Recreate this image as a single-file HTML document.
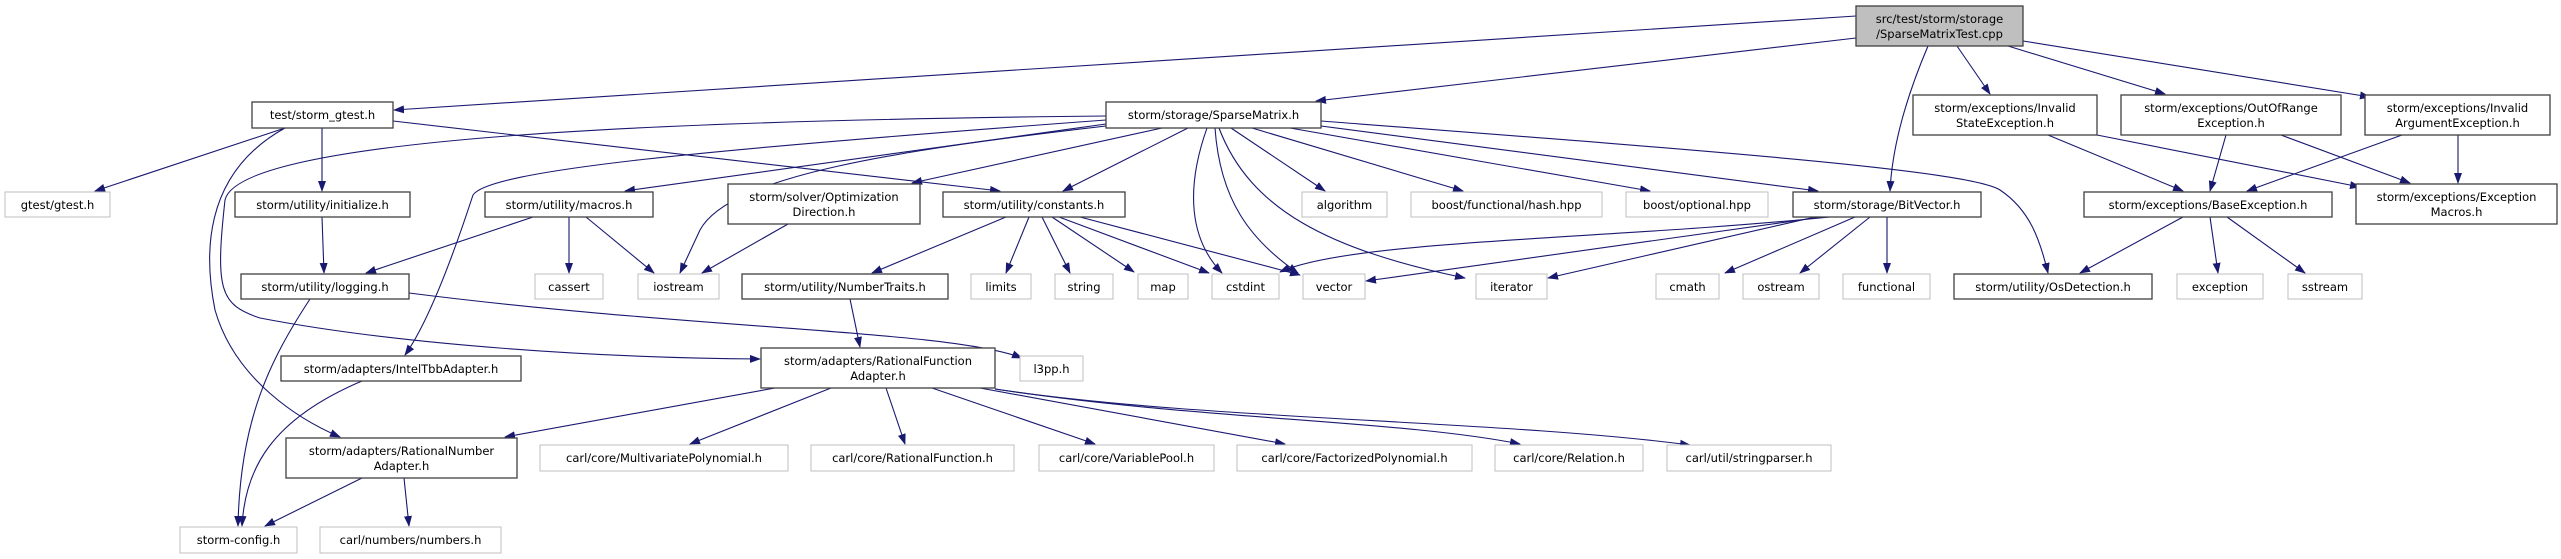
<!DOCTYPE html>
<html><head><meta charset="utf-8"><style>
html,body{margin:0;padding:0;background:#fff;}
svg{display:block;}
text{font-family:"DejaVu Sans","Liberation Sans",sans-serif;font-size:11.5px;fill:#000;text-anchor:middle;}
.d{fill:#fff;stroke:#404040;stroke-width:1.3;}
.e{fill:#fff;stroke:#bfbfbf;stroke-width:1;}
.r{fill:#bfbfbf;stroke:#404040;stroke-width:1.3;}
path.l{fill:none;stroke:#191970;stroke-width:1.1;marker-end:url(#a);}
</style></head><body>
<svg width="2561" height="559" viewBox="0 0 2561 559" xmlns="http://www.w3.org/2000/svg">
<defs><marker id="a" markerWidth="11" markerHeight="8" refX="10" refY="4" orient="auto" markerUnits="userSpaceOnUse"><path d="M0,0 L11,4 L0,8 z" fill="#191970"/></marker></defs>
<!-- edges -->
<path class="l" d="M1856,16 L394,110"/>
<path class="l" d="M1856,38 L1316,101"/>
<path class="l" d="M1928,46 C1905,100 1892,150 1890,191"/>
<path class="l" d="M1957,46 L1990,94"/>
<path class="l" d="M2008,46 L2165,94"/>
<path class="l" d="M2023,41 L2370,97"/>
<path class="l" d="M285,128 L95,191"/>
<path class="l" d="M322,128 L322,191"/>
<path class="l" d="M393,121 L1000,191"/>
<path class="l" d="M285,128 C200,175 205,260 215,310 C235,380 300,420 340,437"/>
<path class="l" d="M1106,116 C700,120 240,135 225,200 C215,290 220,305 260,318 C400,345 600,358 760,359"/>
<path class="l" d="M1106,120 C700,150 490,170 473,195 C455,250 430,320 405,355"/>
<path class="l" d="M1106,124 L625,191"/>
<path class="l" d="M1106,126 C900,150 730,175 700,230 L680,273"/>
<path class="l" d="M1162,128 L912,183"/>
<path class="l" d="M1188,128 L1063,191"/>
<path class="l" d="M1207,128 C1185,190 1190,240 1222,273"/>
<path class="l" d="M1215,128 C1220,200 1250,240 1298,273"/>
<path class="l" d="M1219,128 C1250,210 1330,250 1465,278"/>
<path class="l" d="M1231,128 L1325,191"/>
<path class="l" d="M1252,128 L1463,191"/>
<path class="l" d="M1290,128 L1650,191"/>
<path class="l" d="M1321,126 L1818,191"/>
<path class="l" d="M1321,121 C1700,150 1970,170 2000,190 C2030,210 2040,240 2048,273"/>
<path class="l" d="M322,217 L324,273"/>
<path class="l" d="M533,217 L366,273"/>
<path class="l" d="M569,217 L569,273"/>
<path class="l" d="M586,217 L654,273"/>
<path class="l" d="M788,224 L702,273"/>
<path class="l" d="M1006,217 L872,273"/>
<path class="l" d="M1029,217 L1006,273"/>
<path class="l" d="M1042,217 L1070,273"/>
<path class="l" d="M1052,217 L1134,272"/>
<path class="l" d="M1059,217 L1209,273"/>
<path class="l" d="M1080,217 L1300,275"/>
<path class="l" d="M310,299 C270,360 240,420 238,526"/>
<path class="l" d="M409,293 C700,330 950,330 1022,358"/>
<path class="l" d="M850,299 L860,347"/>
<path class="l" d="M1830,217 C1600,240 1350,240 1280,272"/>
<path class="l" d="M1822,217 L1366,281"/>
<path class="l" d="M1815,217 L1548,278"/>
<path class="l" d="M1855,217 L1725,273"/>
<path class="l" d="M1870,217 L1800,273"/>
<path class="l" d="M1887,217 L1887,273"/>
<path class="l" d="M2048,135 L2183,191"/>
<path class="l" d="M2097,135 L2360,187"/>
<path class="l" d="M2226,135 L2210,191"/>
<path class="l" d="M2281,135 L2410,183"/>
<path class="l" d="M2402,135 L2247,191"/>
<path class="l" d="M2458,135 L2458,183"/>
<path class="l" d="M2183,217 L2080,273"/>
<path class="l" d="M2210,217 L2218,273"/>
<path class="l" d="M2227,217 L2305,273"/>
<path class="l" d="M362,381 C270,420 245,470 242,526"/>
<path class="l" d="M775,388 L505,437"/>
<path class="l" d="M831,388 L690,444"/>
<path class="l" d="M886,388 L905,444"/>
<path class="l" d="M932,388 L1095,444"/>
<path class="l" d="M980,388 L1285,444"/>
<path class="l" d="M995,389 C1200,420 1400,420 1520,444"/>
<path class="l" d="M995,389 C1200,420 1500,420 1690,445"/>
<path class="l" d="M362,478 L265,526"/>
<path class="l" d="M404,478 L409,526"/>
<!-- nodes -->
<rect class="r" x="1856" y="6" width="167" height="40"/><text x="1939.5" y="23">src/test/storm/storage</text><text x="1939.5" y="38">/SparseMatrixTest.cpp</text>
<rect class="d" x="252" y="102" width="141" height="26"/><text x="322.5" y="119">test/storm_gtest.h</text>
<rect class="d" x="1106" y="102" width="215" height="26"/><text x="1213.5" y="119">storm/storage/SparseMatrix.h</text>
<rect class="d" x="1913" y="95" width="184" height="40"/><text x="2005" y="112">storm/exceptions/Invalid</text><text x="2005" y="127">StateException.h</text>
<rect class="d" x="2121" y="95" width="220" height="40"/><text x="2231" y="112">storm/exceptions/OutOfRange</text><text x="2231" y="127">Exception.h</text>
<rect class="d" x="2365" y="95" width="185" height="40"/><text x="2457.5" y="112">storm/exceptions/Invalid</text><text x="2457.5" y="127">ArgumentException.h</text>
<rect class="e" x="5" y="192" width="105" height="25"/><text x="57.5" y="209">gtest/gtest.h</text>
<rect class="d" x="235" y="192" width="175" height="25"/><text x="322.5" y="209">storm/utility/initialize.h</text>
<rect class="d" x="485" y="192" width="168" height="25"/><text x="569" y="209">storm/utility/macros.h</text>
<rect class="d" x="728" y="184" width="192" height="40"/><text x="824" y="201">storm/solver/Optimization</text><text x="824" y="216">Direction.h</text>
<rect class="d" x="943" y="192" width="182" height="25"/><text x="1034" y="209">storm/utility/constants.h</text>
<rect class="e" x="1302" y="192" width="85" height="25"/><text x="1344.5" y="209">algorithm</text>
<rect class="e" x="1411" y="192" width="191" height="25"/><text x="1506.5" y="209">boost/functional/hash.hpp</text>
<rect class="e" x="1626" y="192" width="142" height="25"/><text x="1697" y="209">boost/optional.hpp</text>
<rect class="d" x="1793" y="192" width="188" height="25"/><text x="1887" y="209">storm/storage/BitVector.h</text>
<rect class="d" x="2084" y="192" width="248" height="25"/><text x="2208" y="209">storm/exceptions/BaseException.h</text>
<rect class="d" x="2356" y="184" width="201" height="40"/><text x="2456.5" y="201">storm/exceptions/Exception</text><text x="2456.5" y="216">Macros.h</text>
<rect class="d" x="241" y="274" width="168" height="25"/><text x="325" y="291">storm/utility/logging.h</text>
<rect class="e" x="535" y="274" width="68" height="25"/><text x="569" y="291">cassert</text>
<rect class="e" x="638" y="274" width="81" height="25"/><text x="678.5" y="291">iostream</text>
<rect class="d" x="742" y="274" width="206" height="25"/><text x="845" y="291">storm/utility/NumberTraits.h</text>
<rect class="e" x="971" y="274" width="60" height="25"/><text x="1001" y="291">limits</text>
<rect class="e" x="1055" y="274" width="58" height="25"/><text x="1084" y="291">string</text>
<rect class="e" x="1138" y="274" width="50" height="25"/><text x="1163" y="291">map</text>
<rect class="e" x="1212" y="274" width="67" height="25"/><text x="1245.5" y="291">cstdint</text>
<rect class="e" x="1303" y="274" width="62" height="25"/><text x="1334" y="291">vector</text>
<rect class="e" x="1476" y="274" width="71" height="25"/><text x="1511.5" y="291">iterator</text>
<rect class="e" x="1656" y="274" width="63" height="25"/><text x="1687.5" y="291">cmath</text>
<rect class="e" x="1743" y="274" width="76" height="25"/><text x="1781" y="291">ostream</text>
<rect class="e" x="1843" y="274" width="87" height="25"/><text x="1886.5" y="291">functional</text>
<rect class="d" x="1954" y="274" width="198" height="25"/><text x="2053" y="291">storm/utility/OsDetection.h</text>
<rect class="e" x="2177" y="274" width="86" height="25"/><text x="2220" y="291">exception</text>
<rect class="e" x="2288" y="274" width="74" height="25"/><text x="2325" y="291">sstream</text>
<rect class="d" x="281" y="356" width="240" height="25"/><text x="401" y="373">storm/adapters/IntelTbbAdapter.h</text>
<rect class="d" x="761" y="348" width="234" height="40"/><text x="878" y="365">storm/adapters/RationalFunction</text><text x="878" y="380">Adapter.h</text>
<rect class="e" x="1020" y="356" width="63" height="25"/><text x="1051.5" y="373">l3pp.h</text>
<rect class="d" x="286" y="438" width="231" height="40"/><text x="401.5" y="455">storm/adapters/RationalNumber</text><text x="401.5" y="470">Adapter.h</text>
<rect class="e" x="540" y="445" width="248" height="26"/><text x="664" y="462">carl/core/MultivariatePolynomial.h</text>
<rect class="e" x="811" y="445" width="203" height="26"/><text x="912.5" y="462">carl/core/RationalFunction.h</text>
<rect class="e" x="1039" y="445" width="175" height="26"/><text x="1126.5" y="462">carl/core/VariablePool.h</text>
<rect class="e" x="1237" y="445" width="235" height="26"/><text x="1354.5" y="462">carl/core/FactorizedPolynomial.h</text>
<rect class="e" x="1495" y="445" width="148" height="26"/><text x="1569" y="462">carl/core/Relation.h</text>
<rect class="e" x="1667" y="445" width="164" height="26"/><text x="1749" y="462">carl/util/stringparser.h</text>
<rect class="e" x="180" y="527" width="117" height="26"/><text x="238.5" y="544">storm-config.h</text>
<rect class="e" x="320" y="527" width="181" height="26"/><text x="410.5" y="544">carl/numbers/numbers.h</text>
</svg>
</body></html>
